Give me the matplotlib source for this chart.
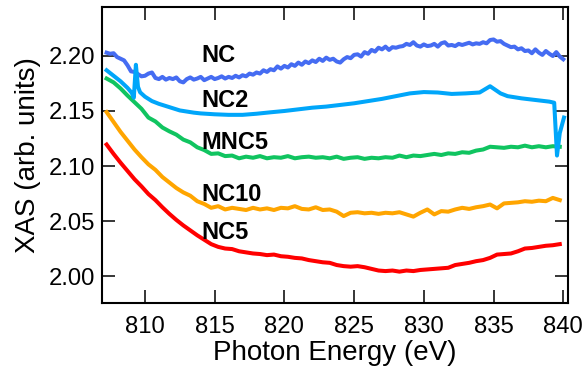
import numpy as np
import matplotlib
matplotlib.use("Agg")
import matplotlib.pyplot as plt

plt.rcParams['font.family'] = ['Liberation Sans', 'DejaVu Sans']

# ---------------- data ----------------
energy_nc = np.arange(807.25, 840.001, 0.25)
nc = [2.2030, 2.2020, 2.2025, 2.1990, 2.1975, 2.1960, 2.1915, 2.1860, 2.1855, 2.1835,
      2.1815, 2.1820, 2.1840, 2.1850, 2.1800, 2.1790, 2.1810, 2.1785, 2.1800, 2.1790,
      2.1805, 2.1770, 2.1760, 2.1790, 2.1805, 2.1785, 2.1795, 2.1810, 2.1780, 2.1795,
      2.1810, 2.1790, 2.1800, 2.1815, 2.1795, 2.1810, 2.1800, 2.1820, 2.1805, 2.1825,
      2.1815, 2.1840, 2.1830, 2.1850, 2.1840, 2.1870, 2.1855, 2.1880, 2.1870, 2.1905,
      2.1885, 2.1910, 2.1895, 2.1925, 2.1910, 2.1940, 2.1920, 2.1950, 2.1935, 2.1960,
      2.1945, 2.1975, 2.1955, 2.1985, 2.1965, 2.1975, 2.1950, 2.1940, 2.1970, 2.1990,
      2.1980, 2.2010, 2.2015, 2.1995, 2.2035, 2.2020, 2.2055, 2.2040, 2.2075, 2.2060,
      2.2085, 2.2055, 2.2080, 2.2075, 2.2085, 2.2090, 2.2110, 2.2100, 2.2125, 2.2095,
      2.2085, 2.2105, 2.2090, 2.2095, 2.2110, 2.2085, 2.2115, 2.2125, 2.2095, 2.2100,
      2.2090, 2.2110, 2.2100, 2.2110, 2.2120, 2.2105, 2.2115, 2.2110, 2.2125, 2.2115,
      2.2145, 2.2150, 2.2130, 2.2135, 2.2110, 2.2095, 2.2080, 2.2085, 2.2060, 2.2070,
      2.2045, 2.2050, 2.2025, 2.2060, 2.2030, 2.2010, 2.2045, 2.2020, 2.2000, 2.2035,
      2.1995, 2.1970]

energy_nc2 = [807.25, 807.75, 808.25, 808.75, 809.05, 809.20, 809.35, 809.50, 809.65,
              810.0, 810.5, 811.0, 811.5, 812.0, 812.5, 813.0, 813.5, 814.0, 815.0,
              816.0, 817.0, 818.0, 819.0, 820.0, 821.0, 822.0, 823.0, 824.0, 825.0,
              826.0, 827.0, 828.0, 829.0, 830.0, 831.0, 832.0, 833.0, 834.0, 834.75,
              835.5, 836.0, 837.0, 838.0, 839.0, 839.35, 839.55, 839.75, 840.05]
nc2 = [2.1870, 2.1820, 2.1770, 2.1710, 2.1665, 2.1620, 2.1920, 2.1720, 2.1670,
       2.1630, 2.1590, 2.1565, 2.1545, 2.1525, 2.1505, 2.1495, 2.1485, 2.1478, 2.1470,
       2.1465, 2.1465, 2.1475, 2.1488, 2.1500, 2.1515, 2.1530, 2.1540, 2.1555, 2.1570,
       2.1590, 2.1610, 2.1635, 2.1660, 2.1672, 2.1668, 2.1655, 2.1660, 2.1668, 2.1725,
       2.1660, 2.1635, 2.1615, 2.1600, 2.1585, 2.1575, 2.1095, 2.1300, 2.1440]

energy = np.arange(807.25, 839.751, 0.5)
mnc5 = [2.1795, 2.1760, 2.1705, 2.1640, 2.1580, 2.1520, 2.1440, 2.1405, 2.1350, 2.1315,
        2.1285, 2.1240, 2.1215, 2.1170, 2.1145, 2.1110, 2.1115, 2.1090, 2.1095, 2.1070,
        2.1085, 2.1075, 2.1090, 2.1070, 2.1080, 2.1075, 2.1090, 2.1070, 2.1080, 2.1085,
        2.1075, 2.1080, 2.1070, 2.1085, 2.1065, 2.1075, 2.1080, 2.1065, 2.1075, 2.1070,
        2.1080, 2.1075, 2.1095, 2.1080, 2.1095, 2.1090, 2.1100, 2.1110, 2.1100, 2.1115,
        2.1110, 2.1125, 2.1120, 2.1140, 2.1150, 2.1175, 2.1170, 2.1165, 2.1175, 2.1170,
        2.1185, 2.1170, 2.1180, 2.1170, 2.1180, 2.1175]
nc10 = [2.1490, 2.1400, 2.1310, 2.1230, 2.1150, 2.1080, 2.1015, 2.0965, 2.0900, 2.0850,
        2.0800, 2.0760, 2.0730, 2.0680, 2.0655, 2.0620, 2.0635, 2.0605, 2.0620, 2.0610,
        2.0600, 2.0620, 2.0605, 2.0615, 2.0600, 2.0620, 2.0615, 2.0635, 2.0610, 2.0605,
        2.0625, 2.0600, 2.0605, 2.0585, 2.0545, 2.0575, 2.0580, 2.0570, 2.0575, 2.0565,
        2.0575, 2.0570, 2.0580, 2.0560, 2.0540, 2.0575, 2.0605, 2.0560, 2.0590, 2.0585,
        2.0605, 2.0620, 2.0610, 2.0625, 2.0635, 2.0650, 2.0615, 2.0660, 2.0665, 2.0670,
        2.0680, 2.0675, 2.0685, 2.0680, 2.0710, 2.0690]
nc5 = [2.1195, 2.1110, 2.1030, 2.0955, 2.0880, 2.0815, 2.0745, 2.0690, 2.0625, 2.0565,
       2.0510, 2.0460, 2.0415, 2.0370, 2.0330, 2.0290, 2.0265, 2.0250, 2.0245, 2.0225,
       2.0215, 2.0205, 2.0200, 2.0190, 2.0195, 2.0180, 2.0175, 2.0165, 2.0160, 2.0145,
       2.0135, 2.0125, 2.0120, 2.0100, 2.0090, 2.0085, 2.0090, 2.0080, 2.0065, 2.0050,
       2.0045, 2.0050, 2.0040, 2.0050, 2.0045, 2.0055, 2.0060, 2.0065, 2.0070, 2.0075,
       2.0100, 2.0110, 2.0120, 2.0135, 2.0145, 2.0165, 2.0195, 2.0200, 2.0205, 2.0225,
       2.0250, 2.0255, 2.0265, 2.0275, 2.0280, 2.0290]

labels = ["NC", "NC2", "MNC5", "NC10", "NC5"]
label_x = [814.05, 814.05, 814.05, 814.05, 814.05]
label_y = [2.1943, 2.1534, 2.1152, 2.0679, 2.0334]

xticks = [810, 815, 820, 825, 830, 835, 840]
yticks = [2.00, 2.05, 2.10, 2.15, 2.20]

c_nc, c_nc2, c_mnc5, c_nc10, c_nc5 = "#456CF2", "#00A6FA", "#10C460", "#FFA500", "#FF0000"

# ---------------- figure ----------------
fig = plt.figure(figsize=(5.83, 3.73), dpi=100)
ax = fig.add_axes([0.1745, 0.1877, 0.7998, 0.7935])

lw = 2.9
ax.plot(energy, nc5, color=c_nc5, lw=lw)
ax.plot(energy, nc10, color=c_nc10, lw=lw)
ax.plot(energy, mnc5, color=c_mnc5, lw=lw)
ax.plot(energy_nc, nc, color=c_nc, lw=lw)
ax.plot(energy_nc2, nc2, color=c_nc2, lw=lw)

for t, x, y in zip(labels, label_x, label_y):
    ax.text(x, y, t, fontsize=17, fontweight='bold', ha='left', va='baseline')

ax.set_xlim(806.9, 840.34)
ax.set_ylim(1.9755, 2.2445)
ax.set_xticks(xticks)
ax.set_yticks(yticks)
ax.set_yticklabels([f"{v:.2f}" for v in yticks])

ax.tick_params(direction='in', length=9.6, width=1.1, top=True, right=True,
               labelsize=17.2, colors='black')
ax.tick_params(axis='x', pad=9.5)
ax.tick_params(axis='y', pad=5)
for s in ax.spines.values():
    s.set_linewidth(1.5)

ax.set_xlabel("Photon Energy (eV)", fontsize=20, labelpad=1)
ax.set_ylabel("XAS (arb. units)", fontsize=20, labelpad=5)

fig.savefig("out.png", dpi=100)
